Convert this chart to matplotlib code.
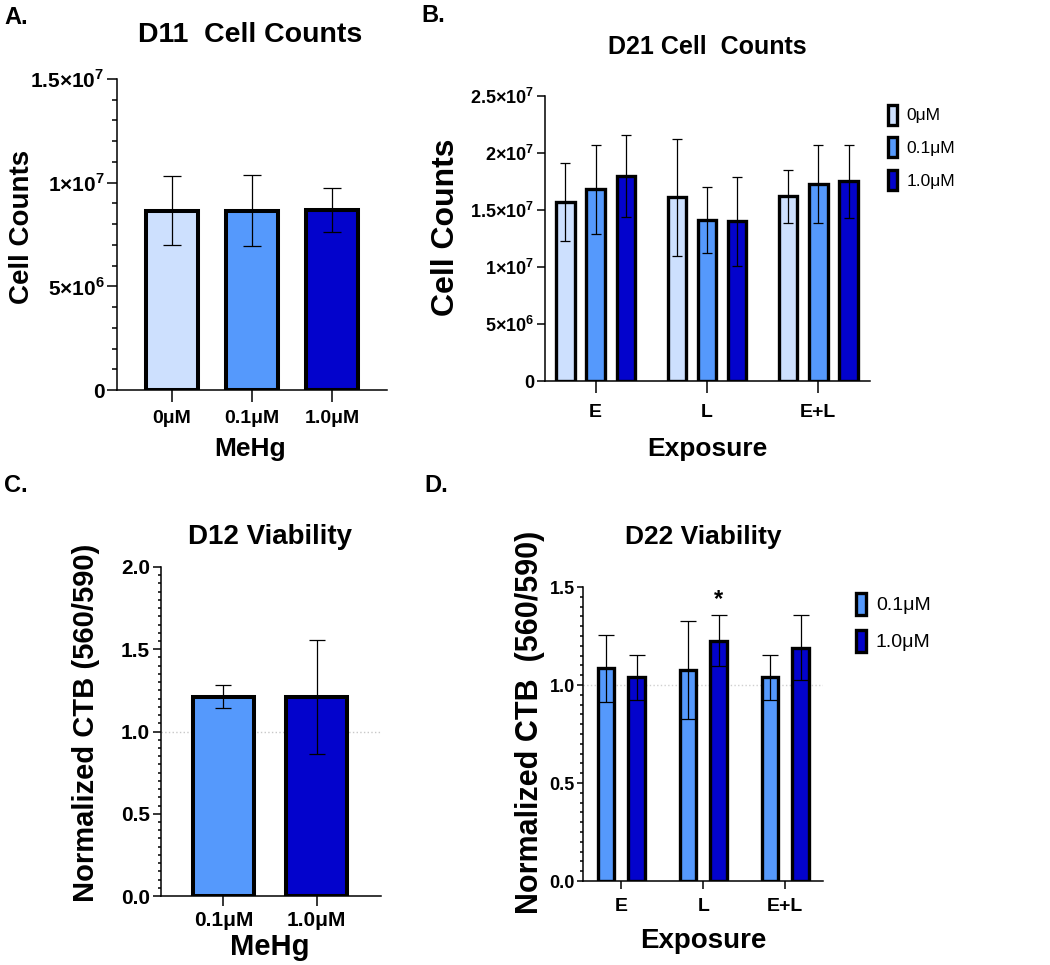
import numpy as np
import matplotlib
matplotlib.use('Agg')
import matplotlib.pyplot as plt
from matplotlib.ticker import FuncFormatter, MultipleLocator

plt.rcParams['font.family'] = ['Liberation Sans', 'DejaVu Sans']
plt.rcParams['font.weight'] = 'bold'
plt.rcParams['mathtext.fontset'] = 'custom'
plt.rcParams['mathtext.rm'] = 'Liberation Sans'
plt.rcParams['mathtext.bf'] = 'Liberation Sans:bold'

# ---- data ----
doses_a = ['0\u03bcM', '0.1\u03bcM', '1.0\u03bcM']
d11_mean = [8.65e6, 8.65e6, 8.68e6]
d11_sd = [1.68e6, 1.70e6, 1.05e6]

exposure = ['E', 'L', 'E+L']
d21_mean = {'0\u03bcM': [1.57e7, 1.61e7, 1.62e7],
            '0.1\u03bcM': [1.68e7, 1.41e7, 1.73e7],
            '1.0\u03bcM': [1.80e7, 1.40e7, 1.75e7]}
d21_sd = {'0\u03bcM': [3.4e6, 5.1e6, 2.3e6],
          '0.1\u03bcM': [3.9e6, 2.9e6, 3.4e6],
          '1.0\u03bcM': [3.6e6, 3.9e6, 3.2e6]}

doses_c = ['0.1\u03bcM', '1.0\u03bcM']
d12_mean = [1.21, 1.21]
d12_sd = [0.07, 0.345]

d22_mean = {'0.1\u03bcM': [1.085, 1.075, 1.04],
            '1.0\u03bcM': [1.04, 1.225, 1.19]}
d22_sd = {'0.1\u03bcM': [0.17, 0.25, 0.115],
          '1.0\u03bcM': [0.115, 0.13, 0.165]}

colors = {'0\u03bcM': '#cde0fe', '0.1\u03bcM': '#5599fc', '1.0\u03bcM': '#0303cc'}

W, H = 1050, 965
fig = plt.figure(figsize=(W / 100, H / 100), dpi=100)


def px_axes(left, top, right, bottom):
    return fig.add_axes([left / W, 1 - bottom / H, (right - left) / W, (bottom - top) / H])


def ftext(x, y, s, **kw):
    fig.text(x / W, 1 - y / H, s, ha='center', va='center', fontweight='bold', **kw)


def sci_fmt(v, pos):
    if v == 0:
        return '0'
    e = int(np.floor(np.log10(v)))
    m = round(v / 10 ** e, 2)
    return '%g\u00d710$^{\\mathbf{%d}}$' % (m, e)


def style(ax, ylen=7, xlen=8.5, lw=1.1):
    for s in ['top', 'right']:
        ax.spines[s].set_visible(False)
    for s in ['left', 'bottom']:
        ax.spines[s].set_linewidth(lw)
    ax.tick_params(axis='y', which='major', length=ylen, width=lw, pad=2)
    ax.tick_params(axis='y', which='minor', length=ylen * 0.5, width=lw)
    ax.tick_params(axis='x', length=xlen, width=lw, pad=4)


# ---- A ----
ax = px_axes(117, 79, 387, 390)
x = np.arange(len(doses_a))
ax.bar(x, d11_mean, 0.65, color=[colors[d] for d in doses_a], edgecolor='black',
       linewidth=2.9, zorder=2)
ax.errorbar(x, d11_mean, yerr=d11_sd, fmt='none', ecolor='black', elinewidth=0.9,
            capsize=6.4, capthick=0.9, zorder=3)
ax.set_xlim(-0.69, 2.69)
ax.set_ylim(0, 1.5e7)
ax.set_yticks([0, 5e6, 1e7, 1.5e7])
ax.yaxis.set_minor_locator(MultipleLocator(1e6))
ax.yaxis.set_major_formatter(FuncFormatter(sci_fmt))
ax.set_xticks(x)
ax.set_xticklabels(doses_a)
style(ax)
ax.tick_params(axis='y', labelsize=15)
ax.tick_params(axis='x', labelsize=14, pad=6)
ftext(250, 35, 'D11  Cell Counts', fontsize=20.5)
ftext(22, 227, 'Cell Counts', fontsize=20, rotation=90)
ftext(250, 449, 'MeHg', fontsize=19)
ftext(16, 17, 'A.', fontsize=17)

# ---- B ----
ax = px_axes(545, 96, 870, 381)
gx = np.arange(len(exposure))
offs = [-0.272, 0, 0.272]
for dose, off in zip(doses_a, offs):
    ax.bar(gx + off, d21_mean[dose], 0.165, color=colors[dose], edgecolor='black',
           linewidth=2.4, zorder=2, label=dose)
    ax.errorbar(gx + off, d21_mean[dose], yerr=d21_sd[dose], fmt='none', ecolor='black',
                elinewidth=0.9, capsize=3.8, capthick=0.9, zorder=3)
ax.set_xlim(-0.455, 2.464)
ax.set_ylim(0, 2.5e7)
ax.set_yticks(np.arange(0, 2.6e7, 5e6))
ax.yaxis.set_major_formatter(FuncFormatter(sci_fmt))
ax.set_xticks(gx)
ax.set_xticklabels(exposure)
style(ax, ylen=5.5, xlen=8.5)
ax.tick_params(axis='y', labelsize=13)
ax.tick_params(axis='x', labelsize=14, pad=8)
ax.legend(loc='upper left', bbox_to_anchor=(872 / W, 1 - 89 / H),
          bbox_transform=fig.transFigure, frameon=False, handlelength=0.55,
          handleheight=1.4, handletextpad=0.55, labelspacing=0.72,
          prop={'weight': 'normal', 'size': 12.5})
ftext(707, 47, 'D21 Cell  Counts', fontsize=18)
ftext(446, 227, 'Cell Counts', fontsize=23, rotation=90)
ftext(707, 449, 'Exposure', fontsize=19)
ftext(433, 15, 'B.', fontsize=17)

# ---- C ----
ax = px_axes(161, 567, 381, 896)
x = np.arange(len(doses_c))
ax.axhline(1.0, color='#c8c8c8', ls=':', lw=1, zorder=1)
ax.bar(x, d12_mean, 0.657, color=[colors[d] for d in doses_c], edgecolor='black',
       linewidth=2.9, zorder=2)
ax.errorbar(x, d12_mean, yerr=d12_sd, fmt='none', ecolor='black', elinewidth=0.9,
            capsize=6.0, capthick=0.9, zorder=3)
ax.set_xlim(-0.668, 1.689)
ax.set_ylim(0, 2.0)
ax.set_yticks([0, 0.5, 1.0, 1.5, 2.0])
ax.yaxis.set_major_formatter(FuncFormatter(lambda v, p: '%.1f' % v))
ax.yaxis.set_minor_locator(MultipleLocator(0.05))
ax.set_xticks(x)
ax.set_xticklabels(doses_c)
style(ax, ylen=6, xlen=7)
ax.tick_params(axis='y', which='minor', length=2.5)
ax.tick_params(labelsize=15)
ftext(270, 537, 'D12 Viability', fontsize=20)
ftext(86, 723, 'Normalized CTB (560/590)', fontsize=21, rotation=90)
ftext(270, 947, 'MeHg', fontsize=21)
ftext(16, 485, 'C.', fontsize=17)

# ---- D ----
ax = px_axes(583, 587, 823, 881)
offs = [-0.187, 0.187]
ax.axhline(1.0, color='#d0d0d0', ls=':', lw=1, zorder=1)
for dose, off in zip(doses_c, offs):
    ax.bar(gx + off, d22_mean[dose], 0.2, color=colors[dose], edgecolor='black',
           linewidth=2.4, zorder=2, label=dose)
    ax.errorbar(gx + off, d22_mean[dose], yerr=d22_sd[dose], fmt='none', ecolor='black',
                elinewidth=0.9, capsize=6.0, capthick=0.9, zorder=3)
star_i = 1
ax.text(gx[star_i] + offs[1], d22_mean['1.0\u03bcM'][star_i] + d22_sd['1.0\u03bcM'][star_i] + 0.02,
        '*', ha='center', va='bottom', fontsize=17, fontweight='bold')
ax.set_xlim(-0.467, 2.459)
ax.set_ylim(0, 1.5)
ax.set_yticks([0, 0.5, 1.0, 1.5])
ax.yaxis.set_major_formatter(FuncFormatter(lambda v, p: '%.1f' % v))
ax.yaxis.set_minor_locator(MultipleLocator(0.05))
ax.set_xticks(gx)
ax.set_xticklabels(exposure)
style(ax, ylen=4, xlen=6)
ax.tick_params(axis='y', which='minor', length=2.5)
ax.tick_params(axis='y', labelsize=13)
ax.tick_params(axis='x', labelsize=14, pad=6)
ax.legend(loc='upper left', bbox_to_anchor=(838 / W, 1 - 575 / H),
          bbox_transform=fig.transFigure, frameon=False, handlelength=0.55,
          handleheight=1.4, handletextpad=0.5, labelspacing=0.75,
          prop={'weight': 'normal', 'size': 14})
ftext(703, 537, 'D22 Viability', fontsize=19)
ftext(530, 722, 'Normalized CTB  (560/590)', fontsize=22, rotation=90)
ftext(703, 941, 'Exposure', fontsize=20)
ftext(436, 485, 'D.', fontsize=17)

fig.savefig('out.png', dpi=100)
